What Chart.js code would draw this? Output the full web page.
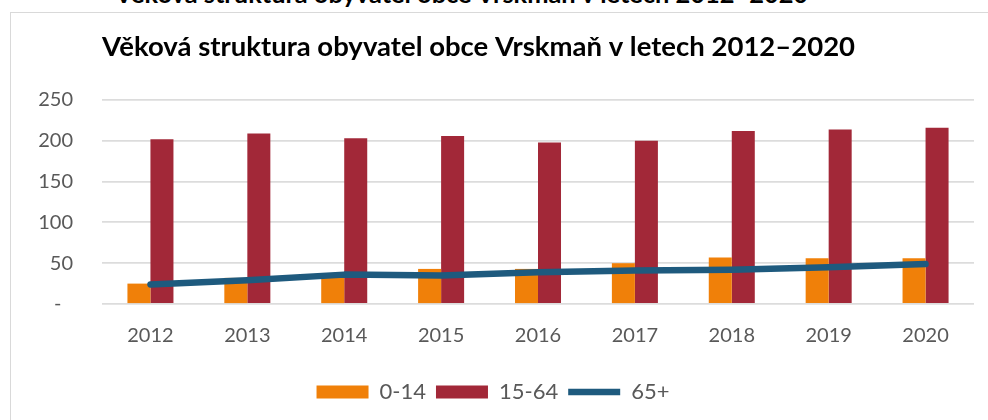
<!DOCTYPE html>
<html>
<head>
<meta charset="utf-8">
<script src="https://cdn.jsdelivr.net/npm/chart.js@4.4.1/dist/chart.umd.min.js"></script>
<style>
  body { margin: 0; background: #fff; }
  #wrap { position: relative; width: 988px; height: 420px; overflow: hidden; }
  #frame { position: absolute; left: 10px; top: 12px; width: 1100px; height: 500px; border: 1px solid #d9d9d9; }
  #topTitle { position: absolute; left: 115px; top: -19px; font: bold 25.4px Lato, sans-serif; line-height: 25px; color: #000; white-space: nowrap; }
  canvas { position: absolute; left: 0; top: 0; }
</style>
</head>
<body>
<div id="wrap">
  <div id="topTitle">Věková struktura obyvatel obce Vrskmaň v letech 2012–2020</div>
  <div id="frame"></div>
  <canvas id="ageChart" width="988" height="420"></canvas>
</div>
<script>
// data
const years = ['2012', '2013', '2014', '2015', '2016', '2017', '2018', '2019', '2020'];
const age0to14 = [25, 32, 34, 43, 43, 50, 57, 56, 56];
const age15to64 = [202, 209, 203, 206, 198, 200, 212, 214, 216];
const age65plus = [24, 29, 36, 35, 39, 41, 42, 45, 49];
const yTicks = [0, 50, 100, 150, 200, 250];

Chart.defaults.font.family = 'Lato';

const ctx = document.getElementById('ageChart');

new Chart(ctx, {
    type: 'bar',
    data: {
        labels: years,
        datasets: [{
            label: '0-14',
            data: age0to14,
            backgroundColor: '#F08009',
            pointStyle: 'rect',
            barPercentage: 1,
            categoryPercentage: 0.475,
            order: 1
        }, {
            label: '15-64',
            data: age15to64,
            backgroundColor: '#A22838',
            pointStyle: 'rect',
            barPercentage: 1,
            categoryPercentage: 0.475,
            order: 1
        }, {
            type: 'line',
            label: '65+',
            data: age65plus,
            borderColor: '#1E5A7E',
            backgroundColor: '#1E5A7E',
            borderWidth: 6.5,
            borderCapStyle: 'round',
            borderJoinStyle: 'round',
            pointStyle: 'line',
            pointRadius: 0,
            tension: 0,
            order: 0
        }]
    },
    options: {
        responsive: false,
        animation: false,
        layout: {
            padding: { left: 12, right: 14, top: 14, bottom: 7 }
        },
        plugins: {
            title: {
                display: true,
                text: 'Věková struktura obyvatel obce Vrskmaň v letech 2012–2020',
                align: 'start',
                fullSize: false,
                color: '#000',
                font: { size: 27.5, weight: 'bold', lineHeight: 1.2 },
                padding: { top: 17, bottom: 36 }
            },
            legend: {
                position: 'bottom',
                labels: {
                    usePointStyle: true,
                    pointStyleWidth: 52,
                    boxHeight: 13,
                    color: '#595959',
                    font: { size: 22 },
                    padding: 10,
                    sort: (a, b) => a.datasetIndex - b.datasetIndex
                }
            },
            tooltip: { enabled: false }
        },
        scales: {
            x: {
                grid: { display: false },
                border: { display: false },
                ticks: { color: '#595959', font: { size: 20 }, padding: 12 },
                afterFit: s => { s.height = 67; }
            },
            y: {
                min: 0,
                max: 250,
                afterBuildTicks: s => { s.ticks = yTicks.map(v => ({ value: v })); },
                grid: { color: '#dcdcdc', lineWidth: 1.8, drawTicks: false },
                border: { display: false },
                ticks: {
                    color: '#595959',
                    font: { size: 20 },
                    padding: 29,
                    callback: v => v === 0 ? '-\u2007' : v
                },
                afterFit: s => { s.width = 90; }
            }
        }
    }
});
</script>
</body>
</html>
